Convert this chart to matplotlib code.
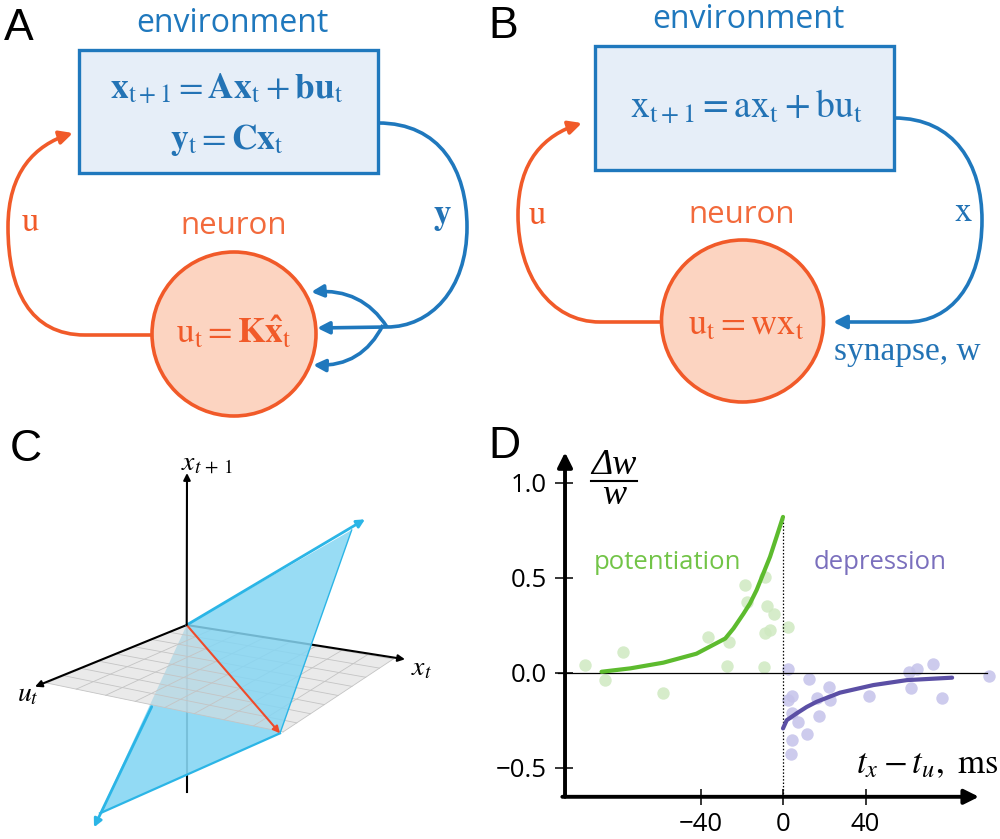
import numpy as np
import matplotlib
matplotlib.use("Agg")
import matplotlib.pyplot as plt
from matplotlib.patches import Circle, Rectangle, Polygon, FancyArrowPatch
from matplotlib.path import Path

plt.rcParams['mathtext.fontset'] = 'stix'
plt.rcParams['font.family'] = ['Open Sans', 'DejaVu Sans']

# ---- panel D data ----
pot_t = [-96, -86.3, -77.7, -58, -36.2, -27, -26, -18.3, -17.6, -8.7, -7.9, -4.4, -8.7, -6.3, -9, 2.3]
pot_v = [0.04, -0.04, 0.11, -0.105, 0.19, 0.035, 0.16, 0.46, 0.37, 0.505, 0.35, 0.31, 0.21, 0.225, 0.03, 0.24]
dep_t = [2.6, 12.8, 4.2, 2.6, 4.2, 7.4, 4.2, 3.9, 11.5, 17.6, 16.3, 22.5, 22.8, 41.9, 61.3, 64.8, 61.9, 72.9, 76.9, 100]
dep_v = [0.02, -0.035, -0.12, -0.145, -0.21, -0.26, -0.355, -0.43, -0.32, -0.23, -0.135, -0.075, -0.145, -0.125,
         0.005, 0.02, -0.08, 0.045, -0.135, -0.015]
pot_fit_t = [-88, -74, -58, -42, -28, -24, -19.2, -16, -12.8, -6.3, -3.1, 0]
pot_fit_v = [0.005, 0.023, 0.053, 0.10, 0.18, 0.233, 0.31, 0.365, 0.435, 0.61, 0.716, 0.82]
dep_fit_t = [0, 1.8, 6.6, 11.5, 16.3, 27.6, 43.8, 60, 82]
dep_fit_v = [-0.293, -0.25, -0.214, -0.18, -0.153, -0.105, -0.065, -0.039, -0.026]
yticks = [-0.5, 0.0, 0.5, 1.0]
ytick_labels = ['\u22120.5', '0.0', '0.5', '1.0']
xticks = [-40, 0, 40]
xtick_labels = ['\u221240', '0', '40']

BLUE = '#1f78bd'
BLUE_TXT = '#2373b5'
ORANGE = '#f15a29'
ORANGE_FILL = '#fcd4c1'
CYAN = '#2bb5e6'

fig = plt.figure(figsize=(10, 8.39), dpi=100)
ax0 = fig.add_axes([0, 0, 1, 1])
ax0.set_xlim(0, 1000)
ax0.set_ylim(839, 0)
ax0.axis('off')


def arrow_path(verts, codes, color, lw=2.4, ms=20, head=True):
    p = FancyArrowPatch(path=Path(verts, codes), arrowstyle='-|>' if head else '-',
                        mutation_scale=ms, lw=lw, color=color, shrinkA=0, shrinkB=0,
                        joinstyle='round', capstyle='butt')
    ax0.add_patch(p)


M, L, C4, C3 = Path.MOVETO, Path.LINETO, Path.CURVE4, Path.CURVE3

# panel letters
for lab, x, y in [('A', 4, 8), ('B', 488, 6), ('C', 10, 429), ('D', 488, 426)]:
    ax0.text(x, y, lab, fontsize=32, family='Liberation Sans', va='top', ha='left')

# ---------------- panel A ----------------
ax0.add_patch(Rectangle((79, 50), 299, 123, fc='#e6eef8', ec=BLUE, lw=2.4, zorder=2))
ax0.text(232, 24, 'environment', color=BLUE, fontsize=23, ha='center', va='center')
ax0.text(227, 90, r'$\mathbf{x}_{\mathrm{t+1}} = \mathbf{Ax}_{\mathrm{t}} + \mathbf{bu}_{\mathrm{t}}$',
         color=BLUE_TXT, fontsize=25.5, ha='center', va='center', zorder=3)
ax0.text(227, 140, r'$\mathbf{y}_{\mathrm{t}} = \mathbf{Cx}_{\mathrm{t}}$',
         color=BLUE_TXT, fontsize=25.5, ha='center', va='center', zorder=3)
ax0.add_patch(Circle((234, 334), 82, fc=ORANGE_FILL, ec=ORANGE, lw=2.6, zorder=2))
ax0.text(234, 226, 'neuron', color='#f26a3c', fontsize=22.5, ha='center', va='center')
ax0.text(234, 333, r'$\mathrm{u}_{\mathrm{t}} = \mathbf{K\hat{x}}_{\mathrm{t}}$',
         color=ORANGE, fontsize=25.5, ha='center', va='center', zorder=3)
ax0.text(30, 222, r'$\mathrm{u}$', color=ORANGE, fontsize=25, ha='center', va='center')
ax0.text(442, 216, r'$\mathbf{y}$', color=BLUE_TXT, fontsize=25, ha='center', va='center')
arrow_path([(152, 335), (85, 335), (30, 335), (8, 290), (8, 227), (8, 172), (35, 145), (73, 133)],
           [M, L, C4, C4, C4, C4, C4, C4], ORANGE, lw=2.6)
arrow_path([(378, 123), (440, 123), (467, 170), (467, 227), (467, 290), (430, 327), (387, 327)],
           [M, C4, C4, C4, C4, C4, C4], BLUE, lw=2.6, head=False)
arrow_path([(387, 327), (317, 328)], [M, L], BLUE, lw=2.6, ms=18)
arrow_path([(387, 327), (362, 288), (311, 292)], [M, C3, C3], BLUE, lw=2.6, ms=18)
arrow_path([(383, 325), (362, 367), (313, 365)], [M, C3, C3], BLUE, lw=2.6, ms=18)

# ---------------- panel B ----------------
ax0.add_patch(Rectangle((595, 46), 299, 124, fc='#e6eef8', ec=BLUE, lw=2.4, zorder=2))
ax0.text(748, 19, 'environment', color=BLUE, fontsize=23, ha='center', va='center')
ax0.text(746, 107, r'$\mathrm{x_{t+1} = ax_t + bu_t}$', color=BLUE_TXT, fontsize=27,
         ha='center', va='center', zorder=3)
ax0.add_patch(Circle((742.5, 321), 81, fc=ORANGE_FILL, ec=ORANGE, lw=2.6, zorder=2))
ax0.text(742, 215, 'neuron', color='#f26a3c', fontsize=22.5, ha='center', va='center')
ax0.text(746, 326, r'$\mathrm{u_t = wx_t}$', color=ORANGE, fontsize=26,
         ha='center', va='center', zorder=3)
ax0.text(537, 215, r'$\mathrm{u}$', color=ORANGE, fontsize=25, ha='center', va='center')
ax0.text(963, 212, r'$\mathrm{x}$', color=BLUE_TXT, fontsize=25, ha='center', va='center')
ax0.text(907, 352, 'synapse, w', color=BLUE_TXT, fontsize=24, family='Liberation Serif',
         ha='center', va='center')
arrow_path([(662, 322), (600, 322), (550, 322), (518, 275), (518, 215), (518, 160), (545, 135), (582, 123)],
           [M, L, C4, C4, C4, C4, C4, C4], ORANGE, lw=2.6)
arrow_path([(894, 118), (955, 118), (982, 165), (982, 220), (982, 285), (950, 322), (907, 322), (833, 322)],
           [M, C4, C4, C4, C4, C4, C4, L], BLUE, lw=2.6, ms=20)

# ---------------- panel C ----------------
O = np.array([186.7, 625.0])
UP = (187, 473)
XT = (405, 659.3)
UT = (35, 686.7)
gq = np.array([O, (46.7, 683), (283, 732), (393.3, 659)])  # origin, u-corner, front, x-corner
P1 = (351.7, 530)
Q = (280, 733.3)
R = (100, 813.3)

ax0.plot([O[0], O[0]], [O[1], 791.7], color='k', lw=1.5, zorder=1)
ax0.add_patch(Polygon([O, Q, R], closed=True, fc='#86d6f3', ec='none', alpha=0.9, zorder=2))
ax0.add_patch(Polygon(gq, closed=True, fc='#dcdcdc', ec='none', alpha=0.6, zorder=3))
for s in np.linspace(0, 1, 9):
    a = gq[0] + s * (gq[1] - gq[0])
    b = gq[3] + s * (gq[2] - gq[3])
    ax0.plot([a[0], b[0]], [a[1], b[1]], color='#c4c4c4', lw=0.6, zorder=3)
    a = gq[0] + s * (gq[3] - gq[0])
    b = gq[1] + s * (gq[2] - gq[1])
    ax0.plot([a[0], b[0]], [a[1], b[1]], color='#c4c4c4', lw=0.6, zorder=3)
ax0.annotate('', xy=XT, xytext=O, arrowprops=dict(arrowstyle='-|>', lw=1.5, color='k',
             mutation_scale=10, shrinkA=0, shrinkB=0), zorder=4)
ax0.annotate('', xy=UT, xytext=O, arrowprops=dict(arrowstyle='-|>', lw=1.5, color='k',
             mutation_scale=10, shrinkA=0, shrinkB=0), zorder=4)
ax0.add_patch(Polygon([O, P1, Q], closed=True, fc='#86d6f3', ec='none', alpha=0.85, zorder=5))
ax0.plot([P1[0], Q[0]], [P1[1], Q[1]], color=CYAN, lw=1.0, zorder=6)
ax0.plot([R[0], Q[0]], [R[1], Q[1]], color=CYAN, lw=1.6, zorder=6)
ax0.annotate('', xy=(365, 519.3), xytext=O, arrowprops=dict(arrowstyle='-|>', lw=2.0, color=CYAN,
             mutation_scale=12, shrinkA=0, shrinkB=0), zorder=6)
ax0.annotate('', xy=(94, 827.3), xytext=(151.7, 706.7), arrowprops=dict(arrowstyle='-|>', lw=2.0,
             color=CYAN, mutation_scale=12, shrinkA=0, shrinkB=0), zorder=6)
ax0.annotate('', xy=Q, xytext=O, arrowprops=dict(arrowstyle='-|>', lw=1.5, color='#ee4b2b',
             mutation_scale=10, shrinkA=0, shrinkB=0), zorder=7)
ax0.annotate('', xy=UP, xytext=O, arrowprops=dict(arrowstyle='-|>', lw=1.5, color='k',
             mutation_scale=10, shrinkA=0, shrinkB=0), zorder=7)
ax0.text(181, 462, r'$x_{t\,+\,1}$', fontsize=20, ha='left', va='center')
ax0.text(411, 668, r'$x_t$', fontsize=20, ha='left', va='center')
ax0.text(17, 694, r'$u_t$', fontsize=20, ha='left', va='center')

# ---------------- panel D ----------------
axD = fig.add_axes([0.5644, 0.0503, 0.4331, 0.4106])
axD.set_xlim(-106, 104)
axD.set_ylim(-0.653, 1.16)
axD.patch.set_alpha(0)
for sp in axD.spines.values():
    sp.set_visible(False)

axD.scatter(pot_t, pot_v, s=80, color='#cfe9c1', alpha=0.85, lw=0, zorder=2)
axD.scatter(dep_t, dep_v, s=80, color='#c5c2ea', alpha=0.85, lw=0, zorder=2, clip_on=False)
axD.plot([-109, 99], [0, 0], color='k', lw=0.9, zorder=3, clip_on=False)
axD.plot([0, 0], [-0.653, 0.82], color='k', lw=0.9, ls=(0, (1.2, 1.5)), zorder=3)
axD.plot(pot_fit_t, pot_fit_v, color='#5dbb2e', lw=3, zorder=4, solid_capstyle='round')
axD.plot(dep_fit_t, dep_fit_v, color='#5b4fa5', lw=3, zorder=4, solid_capstyle='round')

axD.annotate('', xy=(-105.7, 1.16), xytext=(-105.7, -0.653), annotation_clip=False,
             arrowprops=dict(arrowstyle='-|>', lw=2.8, color='k', mutation_scale=22,
                             shrinkA=0, shrinkB=0))
axD.annotate('', xy=(95, -0.653), xytext=(-107, -0.653), annotation_clip=False,
             arrowprops=dict(arrowstyle='-|>', lw=2.8, color='k', mutation_scale=22,
                             shrinkA=0, shrinkB=0))

axD.set_yticks(yticks)
axD.set_yticklabels(ytick_labels)
axD.set_xticks(xticks)
axD.set_xticklabels(xtick_labels)
axD.tick_params(axis='y', direction='inout', length=13, width=1.1, labelsize=18.5, pad=6)
axD.tick_params(axis='x', direction='inout', length=12, width=1.1, labelsize=18.5, pad=5)

axD.text(-56, 0.58, 'potentiation', color='#72c447', fontsize=18.5, ha='center', va='center')
axD.text(47, 0.58, 'depression', color='#7a6fbd', fontsize=18.5, ha='center', va='center')
# dw/w fraction, italic serif
ax0.text(614, 466, '\u0394w', fontsize=26, family='Liberation Serif', style='italic',
         ha='center', va='center')
ax0.plot([591, 637], [481, 481], color='k', lw=1.5)
ax0.text(614, 496, 'w', fontsize=26, family='Liberation Serif', style='italic',
         ha='center', va='center')
axD.text(104.5, -0.48, r'$t_x - t_u,\ \mathrm{ms}$', fontsize=25, ha='right', va='center')

fig.savefig('out.png', dpi=100)
